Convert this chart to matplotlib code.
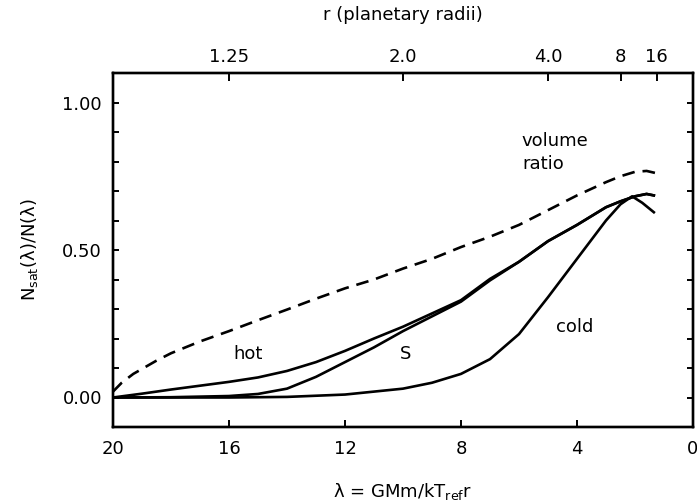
import matplotlib
matplotlib.use("Agg")
import matplotlib.pyplot as plt
import numpy as np

# ---- data ----
lam_vol = [20, 19.7, 19.3, 18.5, 18, 17, 16, 15, 14, 13, 12, 11, 10, 9, 8, 7, 6, 5, 4, 3, 2.5, 2, 1.6, 1.25]
vol_ratio = [0.02, 0.05, 0.08, 0.125, 0.15, 0.19, 0.225, 0.262, 0.298, 0.335, 0.37, 0.40, 0.437, 0.47,
             0.51, 0.545, 0.585, 0.635, 0.685, 0.73, 0.75, 0.765, 0.768, 0.76]

lam_hot = [20, 19, 18, 17, 16, 15, 14, 13, 12, 11, 10, 9, 8, 7, 6, 5, 4, 3, 2.5, 2, 1.6, 1.35]
hot = [0.0, 0.013, 0.027, 0.04, 0.053, 0.068, 0.09, 0.12, 0.158, 0.2, 0.24, 0.285, 0.33, 0.402,
       0.46, 0.53, 0.585, 0.645, 0.665, 0.682, 0.69, 0.685]

lam_s = [20, 18, 16, 15, 14, 13, 12, 11, 10, 9, 8, 7, 6, 5, 4, 3, 2.5, 2, 1.6, 1.35]
s_curve = [0.0, 0.001, 0.005, 0.012, 0.03, 0.07, 0.12, 0.17, 0.225, 0.275, 0.325, 0.397,
           0.46, 0.53, 0.585, 0.645, 0.665, 0.682, 0.69, 0.685]

lam_cold = [20, 16, 14, 12, 11, 10, 9, 8, 7, 6, 5, 4, 3, 2.5, 2.1, 1.75, 1.35]
cold = [0.0, 0.0, 0.002, 0.01, 0.02, 0.03, 0.05, 0.08, 0.13, 0.215, 0.34, 0.47, 0.6,
        0.655, 0.682, 0.66, 0.628]

r_ticks = [1.25, 2.0, 4.0, 8, 16]
r_labels = ["1.25", "2.0", "4.0", "8", "16"]
lam_scale = 20.0  # lambda = 20 / r

x_ticks = [20, 16, 12, 8, 4, 0]
y_major = [0.0, 0.5, 1.0]

plt.rcParams['font.family'] = ['DejaVu Sans']
plt.rcParams['mathtext.fontset'] = 'dejavusans'

fig = plt.figure(figsize=(6.97, 5.04), dpi=100)
ax = fig.add_axes([113/697, 1 - 427/504, (693-113)/697, (427-73)/504])

lw = 1.9
ax.plot(lam_vol, vol_ratio, color='black', lw=lw, dashes=(4.8, 3.0))
ax.plot(lam_hot, hot, color='black', lw=lw)
ax.plot(lam_s, s_curve, color='black', lw=lw)
ax.plot(lam_cold, cold, color='black', lw=lw)

ax.set_xlim(20, 0)
ax.set_ylim(-0.1, 1.1)
ax.set_xticks(x_ticks)
ax.set_xticklabels([str(v) for v in x_ticks])
ax.set_yticks(y_major)
ax.set_yticklabels(["%.2f" % v for v in y_major])
ax.set_yticks(np.round(np.arange(0.0, 1.01, 0.1), 2), minor=True)

for sp in ax.spines.values():
    sp.set_linewidth(1.7)

ax.tick_params(axis='x', which='both', direction='in', length=5, width=1.4, labelsize=13, pad=9,
               top=False)
ax.tick_params(axis='y', which='both', direction='in', length=4, width=1.4, labelsize=13, pad=8,
               right=True)

ax2 = ax.twiny()
ax2.set_xlim(ax.get_xlim())
ax2.set_xticks([lam_scale / r for r in r_ticks])
ax2.set_xticklabels(r_labels)
ax2.tick_params(axis='x', direction='in', length=6, width=1.4, labelsize=13, pad=5)
for sp in ax2.spines.values():
    sp.set_linewidth(1.7)

ax.text(15.33, 0.146, "hot", fontsize=13, ha='center', va='center')
ax.text(9.9, 0.146, "S", fontsize=13, ha='center', va='center')
ax.text(4.09, 0.24, "cold", fontsize=13, ha='center', va='center')
ax.text(5.9, 0.83, "volume\nratio", fontsize=13, ha='left', va='center', linespacing=1.4)

fig.text(403/697, 1 - 15/504, "r (planetary radii)", fontsize=13, ha='center', va='center')
fig.text(403/697, 1 - 492/504, r"λ = GMm/kT$_{\rm ref}$r", fontsize=13, ha='center', va='center')
fig.text(30/697, 1 - 250/504, r"N$_{\rm sat}$(λ)/N(λ)", fontsize=13, ha='center', va='center',
         rotation=90)

fig.savefig("out.png", dpi=100)
